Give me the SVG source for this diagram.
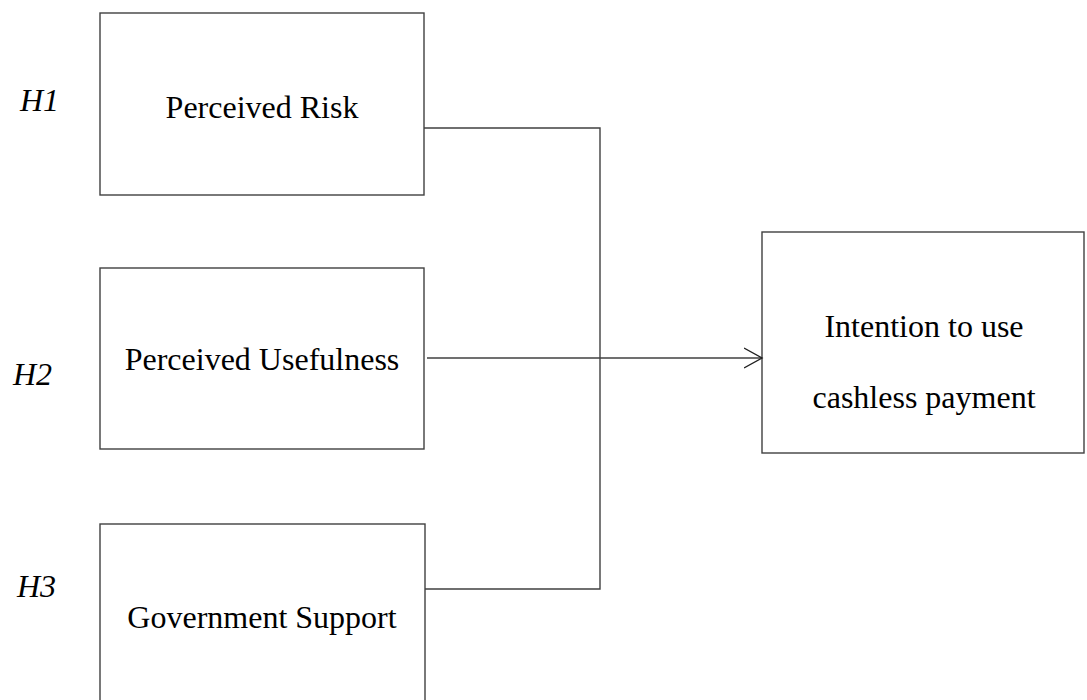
<svg xmlns="http://www.w3.org/2000/svg" width="1087" height="700" viewBox="0 0 1087 700">
<defs>
<style>
.box{fill:#fff;stroke:#404040;stroke-width:1.4}
.lbl{font-family:"Liberation Serif","Times New Roman",serif;font-size:32px;fill:#000;text-anchor:middle}
.h{font-family:"Liberation Serif","Times New Roman",serif;font-size:32px;font-style:italic;fill:#000}
.conn{fill:none;stroke:#404040;stroke-width:1.4}
</style>
<marker id="arr" markerWidth="20" markerHeight="24" refX="18" refY="11" orient="auto" markerUnits="userSpaceOnUse">
<path d="M0,1 L18,11 L0,21" fill="none" stroke="#202020" stroke-width="1.4"/>
</marker>
</defs>
<rect width="1087" height="700" fill="#fff"/>
<g id="hyp-labels">
<text class="h" x="20" y="111">H1</text>
<text class="h" x="13" y="385">H2</text>
<text class="h" x="17" y="597">H3</text>
</g>
<g id="perceived-risk">
<rect class="box" x="100" y="13" width="324" height="182"/>
<text class="lbl" x="262" y="118">Perceived Risk</text>
</g>
<g id="perceived-usefulness">
<rect class="box" x="100" y="268" width="324" height="181"/>
<text class="lbl" x="262" y="370">Perceived Usefulness</text>
</g>
<g id="government-support">
<rect class="box" x="100" y="524" width="325" height="200"/>
<text class="lbl" x="262" y="628">Government Support</text>
</g>
<g id="intention">
<rect class="box" x="762" y="232" width="322" height="221"/>
<text class="lbl" x="924" y="337">Intention to use</text>
<text class="lbl" x="924" y="408">cashless payment</text>
</g>
<g id="connectors">
<polyline class="conn" points="424,128 600,128 600,589 425,589"/>
<line class="conn" x1="427" y1="358" x2="762" y2="358" marker-end="url(#arr)"/>
</g>
</svg>
